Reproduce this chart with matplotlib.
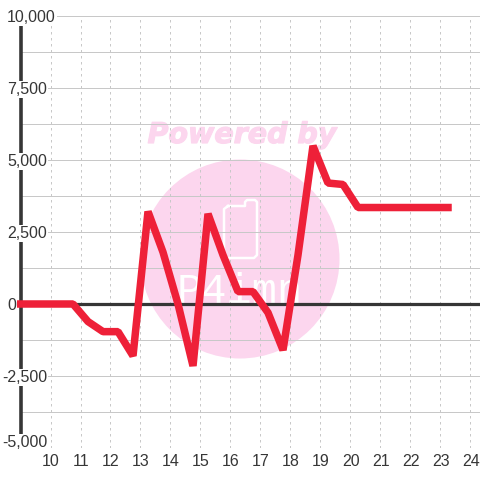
import matplotlib
matplotlib.use("Agg")
import matplotlib.pyplot as plt
import matplotlib.patheffects as pe
from matplotlib.patches import Ellipse

# Values
x_values = [9.0, 10.75, 11.25, 11.75, 12.25, 12.75, 13.25, 13.75, 14.25, 14.75, 15.25, 15.75,
            16.25, 16.75, 17.25, 17.75, 18.25, 18.75, 19.25, 19.75, 20.25, 20.75, 21.25,
            21.75, 22.25, 22.75, 23.25]
y_values = [0, 0, -610, -960, -960, -1800, 3210, 1800, 0, -2150, 3130, 1700,
            430, 430, -300, -1600, 1700, 5490, 4200, 4150, 3350, 3350, 3350,
            3350, 3350, 3350, 3350]
x_ticks = list(range(10, 25))
y_labelled = [-5000, -2500, 0, 2500, 5000, 7500, 10000]
y_minor = [-3750, -1250, 1250, 3750, 6250, 8750]

DPI = 100
W, H = 480, 480
GRID = "#c8c8c8"
DARK = "#363636"
PINK = "#fcd6ee"

fig = plt.figure(figsize=(W / DPI, H / DPI), dpi=DPI)
# axes box: x=20.5..480.5 px, y=16..448 px from the top
ax = fig.add_axes([20.5 / W, (H - 448) / H, 460 / W, 432 / H])
ax.set_xlim(9, 9 + 460 / 30)
ax.set_ylim(-5000, 10000)
ax.patch.set_visible(False)
ax.set_xticks([])
ax.set_yticks([])
for s in ax.spines.values():
    s.set_visible(False)


def px(v):
    return v * 72 / DPI


# watermark, in pixel coords of the figure
bg = fig.add_axes([0, 0, 1, 1], zorder=-1)
bg.set_xlim(0, W)
bg.set_ylim(H, 0)
bg.axis("off")
bg.add_patch(Ellipse((240, 259), 199, 199, fc=PINK, ec="none"))
bg.text(242, 135, "Powered by", color=PINK, fontsize=px(28.5), fontweight="bold", fontstyle="italic",
        family="DejaVu Sans", ha="center", va="center",
        path_effects=[pe.withStroke(linewidth=px(1.2), foreground=PINK)])
phone_x = [228, 245, 245, 247, 255, 257, 257, 254, 227, 224, 224, 228]
phone_y = [206, 206, 202, 200, 200, 202, 255, 258, 258, 255, 209, 206]
bg.plot(phone_x, phone_y, color="white", lw=px(2.5), solid_joinstyle="round")
bg.text(240, 292, "P4imn", color="white", fontsize=px(42), family="Liberation Mono",
        ha="center", va="center")

# grid
for v in y_labelled + y_minor:
    ax.axhline(v, color=GRID, lw=px(1), zorder=1)
for v in x_ticks:
    ax.plot([v, v], [-5000, 10000], color=GRID, lw=px(1), ls=(0, (2.5, 3.5)), zorder=1)

ax.axvline(9, color=DARK, lw=px(3.6), zorder=2, clip_on=False)
ax.axhline(0, color=DARK, lw=px(3.2), zorder=2)

ax.plot(x_values, y_values, color="#ee2038", lw=px(7.5), solid_joinstyle="bevel",
        solid_capstyle="projecting", zorder=3, clip_on=False)

# labels with white backing, they cut through the axis line
for v in y_labelled:
    dy = 1 if v == -5000 else -6
    left = 2 if v < 0 else 7
    ax.annotate(f"{v:,}", (9, v), xytext=(px(left - 20.5), px(dy)), textcoords="offset points",
                color=DARK, fontsize=px(16), family="Liberation Sans", ha="left", va="baseline",
                zorder=4, annotation_clip=False, bbox=dict(fc="white", ec="none", pad=px(1)))
for v in x_ticks:
    ax.annotate(str(v), (v, -5000), xytext=(px(0.5), px(-18)), textcoords="offset points",
                color=DARK, fontsize=px(16), family="Liberation Sans",
                ha="center", va="baseline", annotation_clip=False)

fig.savefig("out.png", dpi=DPI)
